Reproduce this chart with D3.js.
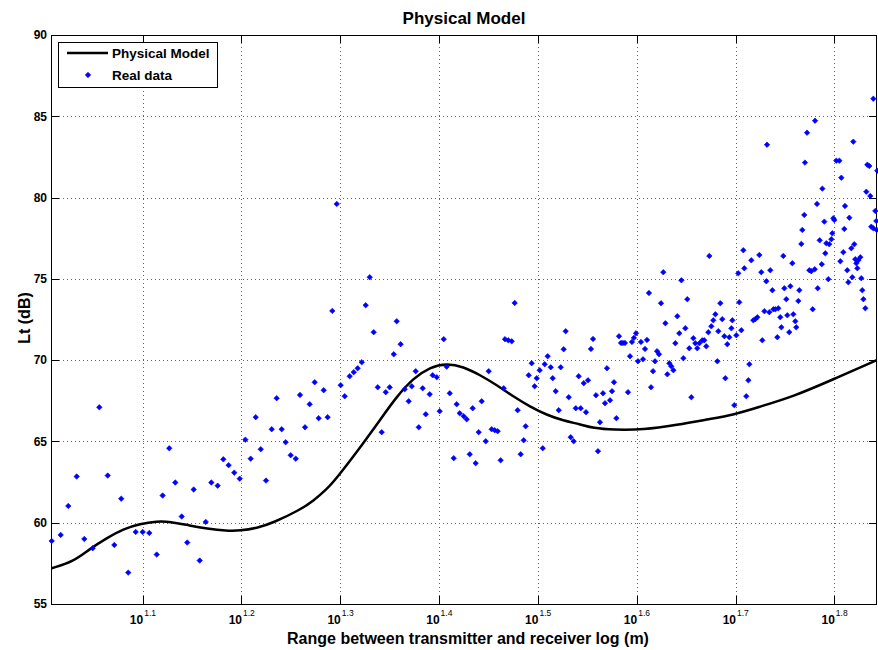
<!DOCTYPE html>
<html>
<head>
<meta charset="utf-8">
<script src="https://cdn.jsdelivr.net/npm/d3@7"></script>
<style>
  body { margin: 0; background: #fff; }
  text { font-family: "Liberation Sans", Arial, sans-serif; }
</style>
</head>
<body>
<script>
// Physical model vs measured data, log range axis

// x values are stored as log10 of range (m)
var modelLogRange = [1.0079, 1.0298, 1.0467, 1.0636, 1.0804, 1.0973, 1.1142, 1.1276, 1.1479, 1.1648,
    1.1850, 1.1985, 1.2154, 1.2322, 1.2592, 1.2727, 1.2862, 1.2964, 1.3233, 1.3402, 1.3571,
    1.3739, 1.3908, 1.4077, 1.4245, 1.4414, 1.4583, 1.4751, 1.4920, 1.5089, 1.5257, 1.5426, 1.5561,
    1.5763, 1.6067, 1.6405, 1.6742, 1.6978, 1.7248, 1.7585, 1.7990, 1.8429];
var modelLt = [57.20, 57.60, 58.40, 59.05, 59.62, 59.93, 60.09, 60.07, 59.82, 59.64,
    59.50, 59.51, 59.66, 60.00, 60.79, 61.35, 62.05, 62.74, 64.89, 66.32, 67.76,
    68.89, 69.57, 69.81, 69.60, 69.09, 68.47, 67.76, 67.14, 66.63, 66.28, 66.06, 65.81,
    65.71, 65.71, 66.01, 66.38, 66.63, 67.14, 67.76, 68.82, 70.00];

var dataLogRange = [1.0079, 1.0170, 1.0247, 1.0332, 1.0409, 1.0494, 1.0561, 1.0646, 1.0713, 1.0783,
    1.0854, 1.0929, 1.1000, 1.1067, 1.1142, 1.1202, 1.1269, 1.1330, 1.1395, 1.1451,
    1.1516, 1.1577, 1.1638, 1.1695, 1.1759, 1.1816, 1.1870, 1.1927, 1.1982, 1.2039,
    1.2093, 1.2144, 1.2195, 1.2248, 1.2306, 1.2356, 1.2407, 1.2447, 1.2498, 1.2549,
    1.2592, 1.2643, 1.2690, 1.2741, 1.2781, 1.2832, 1.2872, 1.2919, 1.2964, 1.3004,
    1.3045, 1.3095, 1.3136, 1.3176, 1.3217, 1.3257, 1.3298, 1.3338, 1.3379, 1.3419,
    1.3460, 1.3500, 1.3541, 1.3571, 1.3611, 1.3652, 1.3692, 1.3723, 1.3763, 1.3794,
    1.3834, 1.3865, 1.3905, 1.3935, 1.3976, 1.4006, 1.4047, 1.4077, 1.4108, 1.4148,
    1.4178, 1.4209, 1.4249, 1.4279, 1.4310, 1.4340, 1.4370, 1.4401, 1.4431, 1.4472,
    1.4502, 1.4532, 1.4563, 1.4593, 1.4623, 1.4654, 1.4667, 1.4700, 1.4735, 1.4765,
    1.4795, 1.4826, 1.4856, 1.4876, 1.4907, 1.4937, 1.4967, 1.4988, 1.5018, 1.5049,
    1.5069, 1.5099, 1.5130, 1.5150, 1.5180, 1.5211, 1.5231, 1.5261, 1.5281, 1.5312,
    1.5332, 1.5362, 1.5383, 1.5413, 1.5433, 1.5464, 1.5487, 1.5507, 1.5537, 1.5558,
    1.5588, 1.5608, 1.5628, 1.5659, 1.5679, 1.5699, 1.5730, 1.5750, 1.5770, 1.5794,
    1.5821, 1.5841, 1.5861, 1.5881, 1.5912, 1.5932, 1.5952, 1.5972, 1.5993, 1.6013,
    1.6043, 1.6064, 1.6084, 1.6104, 1.6124, 1.6145, 1.6165, 1.6185, 1.6206, 1.6226,
    1.6246, 1.6269, 1.6290, 1.6310, 1.6330, 1.6350, 1.6371, 1.6391, 1.6411, 1.6431,
    1.6452, 1.6472, 1.6492, 1.6512, 1.6532, 1.6553, 1.6573, 1.6593, 1.6613, 1.6634,
    1.6664, 1.6684, 1.6704, 1.6725, 1.6735, 1.6755, 1.6775, 1.6796, 1.6816, 1.6826,
    1.6846, 1.6866, 1.6887, 1.6897, 1.6917, 1.6937, 1.6958, 1.6968, 1.6988, 1.7008,
    1.7028, 1.7038, 1.7059, 1.7079, 1.7089, 1.7109, 1.7130, 1.7140, 1.7160, 1.7180,
    1.7200, 1.7221, 1.7241, 1.7261, 1.7271, 1.7292, 1.7312, 1.7319, 1.7342, 1.7352,
    1.7373, 1.7383, 1.7403, 1.7423, 1.7433, 1.7453, 1.7464, 1.7484, 1.7494, 1.7514,
    1.7524, 1.7544, 1.7555, 1.7575, 1.7585, 1.7605, 1.7615, 1.7636, 1.7646, 1.7666,
    1.7676, 1.7696, 1.7703, 1.7724, 1.7747, 1.7767, 1.7781, 1.7802, 1.7805, 1.7825,
    1.7832, 1.7852, 1.7873, 1.7879, 1.7899, 1.7909, 1.7919, 1.7939, 1.7949, 1.7970,
    1.7980, 1.7990, 1.8000, 1.8020, 1.8051, 1.8061, 1.8071, 1.8091, 1.8101, 1.8108,
    1.8131, 1.8142, 1.8152, 1.8172, 1.8182, 1.8192, 1.8202, 1.8212, 1.8223, 1.8233,
    1.8243, 1.8263, 1.8273, 1.8283, 1.8294, 1.8314, 1.8324, 1.8334, 1.8354, 1.8364,
    1.8374, 1.8395, 1.8395, 1.8415, 1.8425, 1.8429, 1.8435];
var dataLt = [58.88, 59.25, 61.03, 62.84, 59.00, 58.43, 67.10, 62.90, 58.63, 61.48,
    56.93, 59.43, 59.43, 59.37, 58.04, 61.67, 64.58, 62.47, 60.38, 58.78,
    62.04, 57.67, 60.05, 62.47, 62.28, 63.90, 63.54, 63.08, 62.71, 65.11,
    63.94, 66.49, 64.52, 62.59, 65.75, 67.66, 65.75, 64.95, 64.15, 63.94,
    67.86, 65.87, 67.29, 68.64, 66.43, 68.15, 66.49, 73.03, 79.61, 68.46,
    67.78, 69.01, 69.26, 69.50, 69.87, 73.38, 75.10, 71.72, 68.33, 65.57,
    68.03, 68.33, 70.36, 72.39, 70.98, 68.21, 67.47, 68.39, 69.32, 65.87,
    68.27, 66.67, 67.90, 69.07, 68.95, 66.86, 71.29, 69.60, 67.96, 63.97,
    67.29, 66.73, 66.55, 66.36, 64.21, 67.04, 63.66, 65.57, 67.47, 65.01,
    69.32, 65.75, 65.69, 65.63, 63.84, 68.27, 71.29, 71.22, 71.16, 73.52,
    66.92, 64.21, 65.07, 65.93, 69.07, 69.81, 68.39, 68.89, 69.38, 64.58,
    69.75, 70.24, 69.56, 68.89, 68.09, 66.92, 69.56, 70.67, 71.78, 67.72,
    65.26, 65.01, 67.04, 69.01, 67.04, 68.58, 66.80, 68.76, 70.69, 71.30,
    67.84, 64.40, 66.18, 67.96, 67.35, 69.50, 67.53, 68.09, 68.64, 66.43,
    71.47, 71.06, 71.06, 71.06, 68.03, 70.24, 71.12, 71.37, 71.65, 69.93,
    71.12, 70.05, 70.69, 71.24, 74.13, 68.33, 69.32, 69.93, 70.55, 70.36,
    73.50, 75.41, 72.27, 69.13, 69.81, 69.62, 69.38, 71.04, 72.70, 71.65,
    74.91, 70.12, 71.96, 73.75, 70.73, 67.72, 71.35, 71.04, 70.73, 71.04,
    71.22, 71.22, 70.85, 71.72, 76.41, 72.08, 72.45, 72.82, 69.93, 71.78,
    73.50, 72.52, 71.47, 68.89, 70.98, 71.41, 71.96, 72.45, 67.23, 71.53,
    75.34, 73.56, 71.84, 76.76, 75.65, 67.78, 68.76, 69.75, 76.14, 72.45,
    72.52, 72.64, 76.47, 75.41, 71.22, 73.01, 74.85, 83.25, 72.95, 75.53,
    74.30, 73.13, 73.13, 71.41, 73.19, 72.64, 72.02, 76.41, 74.42, 73.75,
    72.76, 71.72, 74.55, 75.96, 72.82, 72.39, 72.02, 73.64, 74.30, 77.15,
    78.01, 78.93, 82.15, 83.99, 75.53, 75.47, 73.13, 75.59, 84.73, 79.61,
    74.42, 77.37, 75.90, 80.55, 78.52, 76.57, 77.19, 74.98, 77.13, 77.44,
    77.80, 78.73, 78.62, 82.27, 82.27, 76.08, 81.22, 76.64, 78.07, 79.48,
    75.53, 74.79, 78.76, 76.88, 75.10, 83.44, 77.13, 76.21, 75.96, 75.65,
    76.14, 76.33, 75.04, 74.30, 73.75, 73.19, 80.36, 82.02, 81.94, 80.10,
    78.21, 78.11, 86.08, 79.18, 78.56, 78.01, 81.65];

var xTickPowers = [1.1, 1.2, 1.3, 1.4, 1.5, 1.6, 1.7, 1.8];
var yTicks = [55, 60, 65, 70, 75, 80, 85, 90];
var xLimPowers = [1.0072, 1.8432];
var yLim = [55, 90];

// Set margins
var margin = {top: 35, right: 1, bottom: 46, left: 51};
var width = 878 - margin.left - margin.right;
var height = 650 - margin.top - margin.bottom;

var svg = d3.select('body').append('svg')
    .attr('width', 878)
    .attr('height', 650);

var g = svg.append('g')
    .attr('transform', 'translate(' + margin.left + ',' + margin.top + ')');

// scales
var x = d3.scaleLog()
    .domain(xLimPowers.map(function(p) { return Math.pow(10, p); }))
    .range([0, width]);
var y = d3.scaleLinear().domain(yLim).range([height, 0]);

var xTickVals = xTickPowers.map(function(p) { return Math.pow(10, p); });

// dotted grid
g.append('g').selectAll('line.vgrid')
    .data(xTickVals)
    .enter().append('line')
    .attr('x1', function(d) { return Math.round(x(d)) + 0.5; })
    .attr('x2', function(d) { return Math.round(x(d)) + 0.5; })
    .attr('y1', 0).attr('y2', height)
    .attr('stroke', '#666').attr('stroke-dasharray', '1,3');
g.append('g').selectAll('line.hgrid')
    .data(yTicks.slice(1, -1))
    .enter().append('line')
    .attr('y1', function(d) { return Math.round(y(d)) + 0.5; })
    .attr('y2', function(d) { return Math.round(y(d)) + 0.5; })
    .attr('x1', 0).attr('x2', width)
    .attr('stroke', '#666').attr('stroke-dasharray', '1,3');

// axes, ticks pointing inwards like matlab
var xAxis = g.append('g')
    .attr('transform', 'translate(0,' + height + ')')
    .call(d3.axisBottom(x).tickValues(xTickVals).tickSizeInner(-8).tickSizeOuter(0).tickFormat(''));
var xTop = g.append('g')
    .call(d3.axisTop(x).tickValues(xTickVals).tickSizeInner(-8).tickSizeOuter(0).tickFormat(''));
var yAxis = g.append('g')
    .call(d3.axisLeft(y).tickValues(yTicks).tickSizeInner(-8).tickSizeOuter(0).tickPadding(4));
var yRight = g.append('g')
    .attr('transform', 'translate(' + width + ',0)')
    .call(d3.axisRight(y).tickValues(yTicks).tickSizeInner(-8).tickSizeOuter(0).tickFormat(''));

[xAxis, xTop, yAxis, yRight].forEach(function(a) {
    a.select('.domain').remove();
    a.selectAll('line').attr('stroke', '#000').attr('shape-rendering', 'crispEdges');
});

yAxis.selectAll('text')
    .attr('font-size', '12px')
    .attr('font-weight', 'bold')
    .attr('fill', '#000');

// 10^p labels
xAxis.selectAll('.tick').each(function(d, i) {
    var t = d3.select(this);
    t.append('text')
        .attr('x', 0).attr('y', 20)
        .attr('text-anchor', 'end')
        .attr('font-size', '12px').attr('font-weight', 'bold').attr('fill', '#000')
        .text('10');
    t.append('text')
        .attr('x', 1).attr('y', 12)
        .attr('text-anchor', 'start')
        .attr('font-size', '8.5px').attr('fill', '#000')
        .text(xTickPowers[i]);
});

// axes box
g.append('rect')
    .attr('x', 0.5).attr('y', 0.5)
    .attr('width', width - 1).attr('height', height)
    .attr('fill', 'none').attr('stroke', '#000')
    .attr('shape-rendering', 'crispEdges');

// model curve
var line = d3.line()
    .x(function(d) { return x(Math.pow(10, d[0])); })
    .y(function(d) { return y(d[1]); })
    .curve(d3.curveBasis);

var modelPts = modelLogRange.map(function(v, i) { return [v, modelLt[i]]; });
g.append('path')
    .datum(modelPts)
    .attr('d', line)
    .attr('fill', 'none')
    .attr('stroke', '#000')
    .attr('stroke-width', 2.5);

// real data points
var marker = d3.symbol().type(d3.symbolSquare).size(15);
var dataPts = dataLogRange.map(function(v, i) { return [v, dataLt[i]]; });
g.selectAll('.pt')
    .data(dataPts)
    .enter().append('path')
    .attr('class', 'pt')
    .attr('d', marker)
    .attr('transform', function(d) {
        return 'translate(' + x(Math.pow(10, d[0])) + ',' + y(d[1]) + ') rotate(45)';
    })
    .attr('fill', '#0000ff')
    .attr('stroke', '#0000ff')
    .attr('stroke-width', 0.6);

// legend
var leg = g.append('g');
leg.append('rect')
    .attr('x', 7.5).attr('y', 7.5)
    .attr('width', 159).attr('height', 45)
    .attr('fill', '#fff').attr('stroke', '#000')
    .attr('shape-rendering', 'crispEdges');
leg.append('line')
    .attr('x1', 16).attr('x2', 57).attr('y1', 18).attr('y2', 18)
    .attr('stroke', '#000').attr('stroke-width', 2.5);
leg.append('text')
    .attr('x', 61).attr('y', 18).attr('dy', '0.35em')
    .attr('font-size', '13.5px').attr('font-weight', 'bold')
    .text('Physical Model');
leg.append('path')
    .attr('d', marker)
    .attr('transform', 'translate(37,40) rotate(45)')
    .attr('fill', '#0000ff').attr('stroke', '#0000ff').attr('stroke-width', 0.6);
leg.append('text')
    .attr('x', 61).attr('y', 40).attr('dy', '0.35em')
    .attr('font-size', '13.5px').attr('font-weight', 'bold')
    .text('Real data');

// title and labels
svg.append('text')
    .attr('x', margin.left + width / 2).attr('y', 24)
    .attr('text-anchor', 'middle')
    .attr('font-size', '17px').attr('font-weight', 'bold')
    .text('Physical Model');

svg.append('text')
    .attr('x', margin.left + width / 2 + 4).attr('y', 644)
    .attr('text-anchor', 'middle')
    .attr('font-size', '16px').attr('font-weight', 'bold')
    .text('Range between transmitter and receiver log (m)');

svg.append('text')
    .attr('transform', 'translate(30,318) rotate(-90)')
    .attr('text-anchor', 'middle')
    .attr('font-size', '16px').attr('font-weight', 'bold')
    .text('Lt (dB)');
</script>
</body>
</html>
